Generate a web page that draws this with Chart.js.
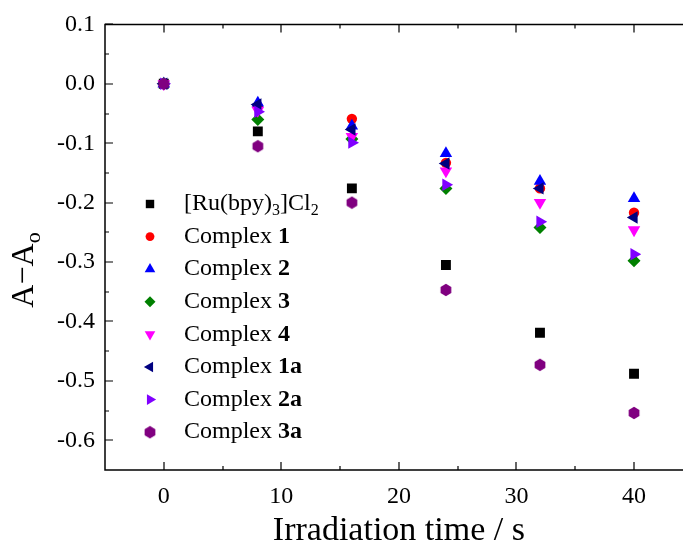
<!DOCTYPE html>
<html>
<head>
<meta charset="utf-8">
<script src="https://cdn.jsdelivr.net/npm/chart.js@4"></script>
<style>
  html, body { margin: 0; padding: 0; background: #fff; }
  #wrap { width: 683px; height: 552px; overflow: hidden; position: relative; }
  #wrap canvas { position: absolute; left: 0; top: 0; }
</style>
</head>
<body>
<div id="wrap"><canvas id="chart" width="700" height="552"></canvas></div>
<script>
// --- DATA ---
const times = [0, 8, 16, 24, 32, 40];
const ruBpy     = [0, -0.080, -0.176, -0.305, -0.419, -0.488];
const complex1  = [0, -0.038, -0.059, -0.133, -0.176, -0.217];
const complex2  = [0, -0.032, -0.071, -0.117, -0.164, -0.193];
const complex3  = [0, -0.060, -0.093, -0.176, -0.242, -0.298];
const complex4  = [0, -0.045, -0.089, -0.147, -0.200, -0.246];
const complex1a = [0, -0.035, -0.077, -0.134, -0.176, -0.225];
const complex2a = [0, -0.047, -0.099, -0.170, -0.232, -0.287];
const complex3a = [0, -0.105, -0.200, -0.347, -0.473, -0.554];

// "_x" = subscript char, "*...*" = bold
const seriesLabels = ['[Ru(bpy)_3]Cl_2', 'Complex *1*', 'Complex *2*', 'Complex *3*',
                      'Complex *4*', 'Complex *1a*', 'Complex *2a*', 'Complex *3a*'];

const xTicks = [0, 10, 20, 30, 40];
const xMinorTicks = [5, 15, 25, 35];
const yTicks = [0.1, 0.0, -0.1, -0.2, -0.3, -0.4, -0.5, -0.6];
const yMinorTicks = [0.05, -0.05, -0.15, -0.25, -0.35, -0.45, -0.55];

const FONT = "'Liberation Serif', 'DejaVu Serif', serif";

// hexagon marker (origin's "hexagon" symbol)
function hexagon(color) {
    const c = document.createElement('canvas');
    c.width = 14; c.height = 14;
    const g = c.getContext('2d');
    g.fillStyle = color;
    g.beginPath();
    for (let k = 0; k < 6; k++) {
        const a = Math.PI / 3 * k;
        const px = 7 + Math.sin(a) * 6.2, py = 7 - Math.cos(a) * 6.2;
        k ? g.lineTo(px, py) : g.moveTo(px, py);
    }
    g.closePath();
    g.fill();
    return c;
}

function series(i, data, color, style, radius, rotation) {
    return {
        label: seriesLabels[i],
        data: data.map((v, k) => ({ x: times[k], y: v })),
        backgroundColor: color,
        borderColor: color,
        pointStyle: style,
        pointRadius: radius,
        pointRotation: rotation || 0,
        pointBorderWidth: 0,
        showLine: false,
        order: 7 - i
    };
}

const datasets = [
    series(0, ruBpy, '#000000', 'rect', 7),
    series(1, complex1, '#ff0000', 'circle', 5.2),
    series(2, complex2, '#0000ff', 'triangle', 7.2),
    series(3, complex3, '#008000', 'rectRot', 6.5),
    series(4, complex4, '#ff00ff', 'triangle', 7.2, 180),
    series(5, complex1a, '#000080', 'triangle', 7.2, 270),
    series(6, complex2a, '#8000ff', 'triangle', 7.2, 90),
    series(7, complex3a, '#800080', hexagon('#800080'), 6)
];

// --- FRAME + INWARD TICKS ---
const frame = {
    id: 'frame',
    beforeDatasetsDraw(chart) {
        const { ctx, chartArea: a, scales: { x, y } } = chart;
        ctx.save();
        ctx.strokeStyle = '#000';
        ctx.lineWidth = 1.5;
        ctx.beginPath();
        ctx.moveTo(a.right + 5, a.top); ctx.lineTo(a.left, a.top);
        ctx.lineTo(a.left, a.bottom); ctx.lineTo(a.right + 5, a.bottom);
        ctx.stroke();
        ctx.lineWidth = 1.2;
        ctx.beginPath();
        xTicks.forEach(v => {
            const px = Math.round(x.getPixelForValue(v));
            ctx.moveTo(px, a.bottom); ctx.lineTo(px, a.bottom - 8);
            ctx.moveTo(px, a.top); ctx.lineTo(px, a.top + 8);
        });
        xMinorTicks.forEach(v => {
            const px = Math.round(x.getPixelForValue(v));
            ctx.moveTo(px, a.bottom); ctx.lineTo(px, a.bottom - 4);
            ctx.moveTo(px, a.top); ctx.lineTo(px, a.top + 4);
        });
        yTicks.forEach(v => {
            const py = Math.round(y.getPixelForValue(v));
            ctx.moveTo(a.left, py); ctx.lineTo(a.left + 8, py);
        });
        yMinorTicks.forEach(v => {
            const py = Math.round(y.getPixelForValue(v));
            ctx.moveTo(a.left, py); ctx.lineTo(a.left + 4, py);
        });
        ctx.stroke();
        ctx.restore();
    }
};

// draws a label with _sub and *bold* parts, returns nothing
function richText(ctx, text, x, y, size) {
    const parts = text.split(/(\*[^*]+\*|_\w)/).filter(s => s);
    let cx = x;
    parts.forEach(p => {
        let font = size + 'px ' + FONT, dy = 0;
        if (p[0] === '*') { p = p.slice(1, -1); font = 'bold ' + font; }
        else if (p[0] === '_') { p = p.slice(1); font = Math.round(size * 0.68) + 'px ' + FONT; dy = size * 0.3; }
        ctx.font = font;
        ctx.fillText(p, cx, y + dy);
        cx += ctx.measureText(p).width;
    });
}

// --- LEGEND + Y TITLE ---
const legendBox = {
    id: 'legendBox',
    afterDraw(chart) {
        const ctx = chart.ctx;
        ctx.save();
        chart.data.datasets.forEach((ds, i) => {
            const cy = 204 + i * 32.6;
            ctx.fillStyle = ds.backgroundColor;
            Chart.helpers.drawPoint(ctx, {
                pointStyle: ds.pointStyle,
                radius: ds.pointRadius * 0.85,
                rotation: ds.pointRotation,
                borderWidth: 0
            }, 150, cy);
            ctx.fillStyle = '#000';
            ctx.textBaseline = 'middle';
            ctx.textAlign = 'left';
            richText(ctx, ds.label, 184, cy, 24);
        });

        // y axis title "A−A_o", rotated
        ctx.translate(25, 270);
        ctx.rotate(-Math.PI / 2);
        ctx.font = '32px ' + FONT;
        const main = 'A\u2212A';
        const w1 = ctx.measureText(main).width;
        ctx.font = '22px ' + FONT;
        const w2 = ctx.measureText('o').width;
        ctx.fillStyle = '#000';
        ctx.textBaseline = 'middle';
        ctx.textAlign = 'left';
        const sx = -(w1 + w2) / 2;
        ctx.font = '32px ' + FONT;
        ctx.fillText(main, sx, 0);
        ctx.font = '22px ' + FONT;
        ctx.fillText('o', sx + w1, 9);
        ctx.restore();
    }
};

new Chart(document.getElementById('chart'), {
    type: 'scatter',
    data: { datasets },
    options: {
        responsive: false,
        animation: false,
        devicePixelRatio: 1,
        layout: { padding: { top: 23, right: 7, left: 0, bottom: 0 } },
        plugins: { legend: { display: false }, tooltip: { enabled: false } },
        scales: {
            x: {
                type: 'linear',
                min: -5, max: 45,
                grid: { display: false, drawTicks: false },
                border: { display: false },
                afterBuildTicks: s => { s.ticks = xTicks.map(v => ({ value: v })); },
                afterFit: s => { s.height = 82; },
                ticks: { color: '#000', font: { family: FONT, size: 24 }, padding: 12, maxRotation: 0 },
                title: {
                    display: true, text: 'Irradiation time / s', color: '#000',
                    font: { family: FONT, size: 34 }, padding: { top: 0, bottom: 1 }
                }
            },
            y: {
                type: 'linear',
                min: -0.65, max: 0.1,
                grid: { display: false, drawTicks: false },
                border: { display: false },
                afterBuildTicks: s => { s.ticks = yTicks.map(v => ({ value: v })); },
                afterFit: s => { s.width = 105; },
                ticks: {
                    color: '#000', font: { family: FONT, size: 24 }, padding: 10,
                    callback: v => v.toFixed(1)
                }
            }
        }
    },
    plugins: [frame, legendBox]
});
</script>
</body>
</html>
